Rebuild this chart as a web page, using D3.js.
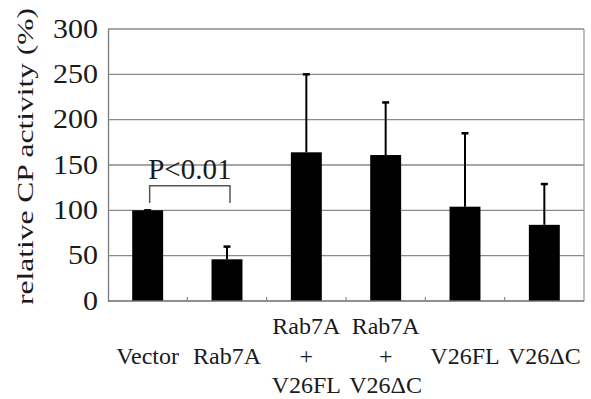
<!DOCTYPE html>
<html>
<head>
<meta charset="utf-8">
<script src="https://cdn.jsdelivr.net/npm/d3@7"></script>
<style>
  body { margin: 0; background: #fff; }
  svg text { font-family: "Liberation Serif", "Times New Roman", Times, "DejaVu Serif", serif; fill: #1a1a1a; }
</style>
</head>
<body>
<div id="chart"></div>
<script>
// data
var categories = ["Vector", "Rab7A", "Rab7A+V26FL", "Rab7A+V26ΔC", "V26FL", "V26ΔC"];
var labelLines = [["", "Vector", ""], ["", "Rab7A", ""], ["Rab7A", "+", "V26FL"], ["Rab7A", "+", "V26ΔC"], ["", "V26FL", ""], ["", "V26ΔC", ""]];
var means = [100, 46, 164, 161, 104, 84];
var errTops = [100, 60, 250, 219, 185, 129];
var yTicks = [0, 50, 100, 150, 200, 250, 300];
var sigLabel = "P<0.01";
var sigPair = ["Vector", "Rab7A"];
var sigLevels = [127, 108]; // bracket top, bracket feet

var serif = '"Liberation Serif", "Times New Roman", Times, "DejaVu Serif", serif';

var margin = { top: 29, right: 7, bottom: 98, left: 108 },
  width = 591 - margin.left - margin.right,
  height = 399 - margin.top - margin.bottom;

var svg = d3.select("#chart")
  .append("svg")
  .attr("width", 591)
  .attr("height", 399)
  .attr("font-family", serif)
  .append("g")
  .attr("transform", "translate(" + margin.left + "," + margin.top + ")");

var x = d3.scaleBand()
  .domain(categories)
  .range([0, width])
  .paddingInner(0.61)
  .paddingOuter(0.305);

// full-width bands for the tick marks
var xb = d3.scaleBand().domain(categories).range([0, width]);

var y = d3.scaleLinear()
  .domain([0, 300])
  .range([height, 0]);

// gridlines
svg.append("g")
  .selectAll("line")
  .data(yTicks.filter(function (d) { return d > 0; }))
  .enter()
  .append("line")
  .attr("x1", 0)
  .attr("x2", width)
  .attr("y1", function (d) { return y(d); })
  .attr("y2", function (d) { return y(d); })
  .style("stroke", "#8a8a8a")
  .style("stroke-width", 1.3);

// right border
svg.append("line")
  .attr("x1", width).attr("x2", width)
  .attr("y1", 0).attr("y2", height)
  .style("stroke", "#9a9a9a")
  .style("stroke-width", 1.3);

// y axis
var yAxis = svg.append("g")
  .call(d3.axisLeft(y).tickValues(yTicks).tickSize(0).tickPadding(10));
yAxis.attr("font-family", serif);
yAxis.select(".domain").style("stroke", "#7a7a7a").style("stroke-width", 1.3);
yAxis.selectAll("text")
  .style("font-size", "27px")
  .style("font-family", serif)
  .attr("dy", "0.3em")
  .attr("textLength", function (d) { return String(d).length * 15; })
  .attr("lengthAdjust", "spacingAndGlyphs");

// error bars
var eb = svg.append("g");
categories.forEach(function (c, i) {
  var cx = x(c) + x.bandwidth() / 2;
  eb.append("line")
    .attr("x1", cx).attr("x2", cx)
    .attr("y1", y(means[i])).attr("y2", y(errTops[i]))
    .style("stroke", "#000").style("stroke-width", 2);
  eb.append("line")
    .attr("x1", cx - 3.5).attr("x2", cx + 3.5)
    .attr("y1", y(errTops[i])).attr("y2", y(errTops[i]))
    .style("stroke", "#000").style("stroke-width", 2.5);
});

// bars
svg.selectAll("rect.bar")
  .data(means)
  .enter()
  .append("rect")
  .attr("class", "bar")
  .attr("x", function (d, i) { return x(categories[i]); })
  .attr("y", function (d) { return y(d); })
  .attr("width", x.bandwidth())
  .attr("height", function (d) { return height - y(d); })
  .style("fill", "#000");

// x axis
var xAxis = svg.append("g")
  .attr("transform", "translate(0," + height + ")");
xAxis.append("line")
  .attr("x1", 0).attr("x2", width)
  .style("stroke", "#6a6a6a").style("stroke-width", 1.5);
xAxis.selectAll("line.tick")
  .data(categories.slice(1))
  .enter()
  .append("line")
  .attr("class", "tick")
  .attr("x1", function (d) { return xb(d); })
  .attr("x2", function (d) { return xb(d); })
  .attr("y1", 0).attr("y2", -4)
  .style("stroke", "#8a8a8a").style("stroke-width", 1.2);

// category labels (three lines each)
categories.forEach(function (c, i) {
  var cx = xb(c) + xb.bandwidth() / 2;
  labelLines[i].forEach(function (t, j) {
    if (!t) return;
    xAxis.append("text")
      .attr("x", cx)
      .attr("y", 33 + j * 29.5)
      .style("text-anchor", "middle")
      .style("font-size", "24px")
      .style("font-family", serif)
      .text(t);
  });
});

// significance bracket
var bx0 = x(sigPair[0]) + x.bandwidth() / 2 + 2,
  bx1 = x(sigPair[1]) + x.bandwidth() / 2 + 3;
svg.append("path")
  .attr("d", "M" + bx0 + "," + y(sigLevels[1]) + "V" + y(sigLevels[0]) + "H" + bx1 + "V" + y(sigLevels[1]))
  .style("fill", "none")
  .style("stroke", "#555")
  .style("stroke-width", 1.5);
svg.append("text")
  .attr("x", (bx0 + bx1) / 2)
  .attr("y", y(sigLevels[0]) - 7)
  .style("text-anchor", "middle")
  .style("font-size", "29px")
  .style("font-family", serif)
  .text(sigLabel);

// y axis label
svg.append("text")
  .attr("transform", "rotate(-90)")
  .attr("x", -127.5)
  .attr("y", -75)
  .style("text-anchor", "middle")
  .style("font-size", "24px")
  .style("font-family", serif)
  .attr("textLength", 297)
  .attr("lengthAdjust", "spacingAndGlyphs")
  .text("relative CP activity (%)");
</script>
</body>
</html>
